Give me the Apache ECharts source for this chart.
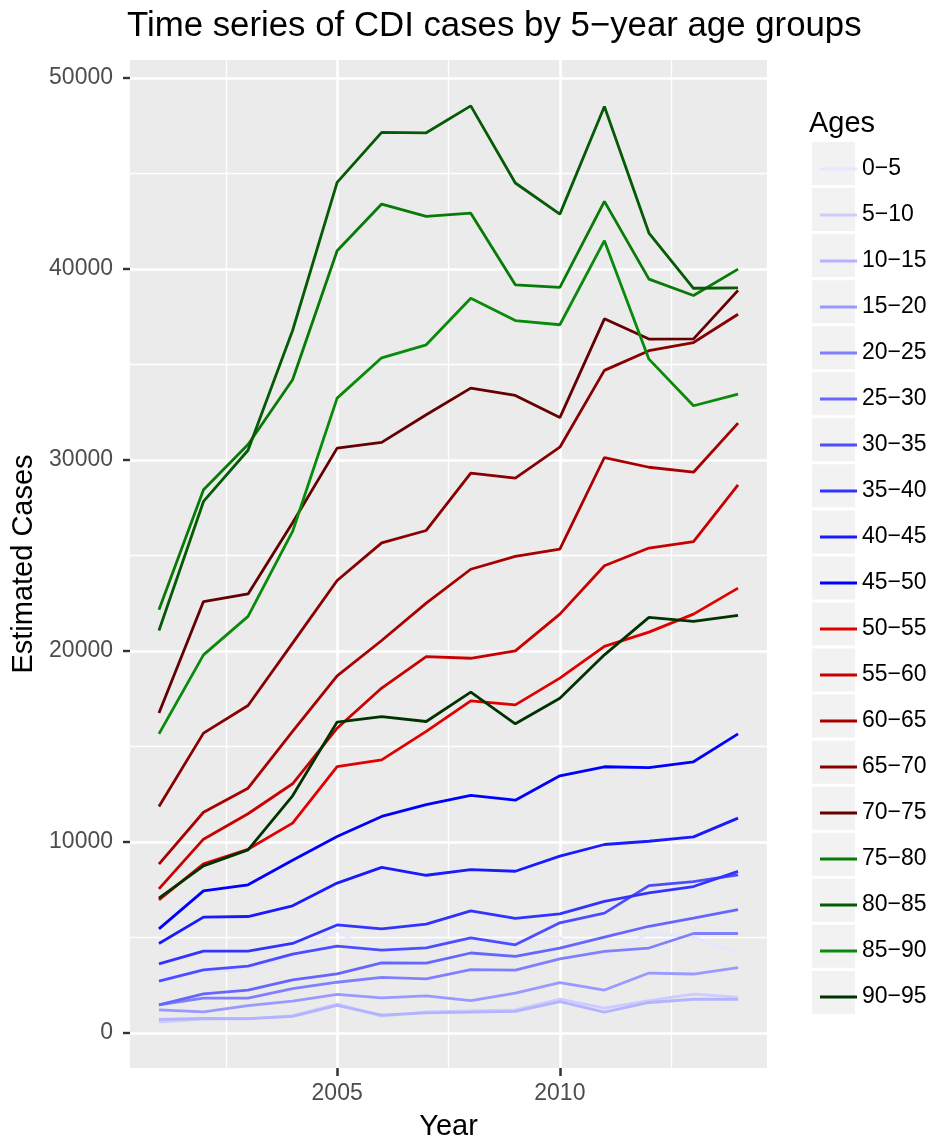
<!DOCTYPE html>
<html>
<head>
<meta charset="utf-8">
<title>CDI cases by age group</title>
<script src="https://cdn.jsdelivr.net/npm/echarts@6/dist/echarts.min.js"></script>
<style>
  html, body { margin: 0; padding: 0; background: #fff; }
  #chart { width: 933px; height: 1140px; }
</style>
</head>
<body>
<div id="chart"></div>
<script>
'use strict';
// estimated CDI cases per year, one array per 5-year age group
const years = [2001, 2002, 2003, 2004, 2005, 2006, 2007, 2008, 2009, 2010, 2011, 2012, 2013, 2014];

const ageGroups = ['0−5', '5−10', '10−15', '15−20', '20−25', '25−30', '30−35', '35−40', '40−45',
                   '45−50', '50−55', '55−60', '60−65', '65−70', '70−75', '75−80', '80−85', '85−90', '90−95'];

const cases_0_5   = [2950, 3140, 3350, 3980, 5390, 3730, 4780, 4900, 4830, 4960, 3910, 5220, 5010, 4170];
const cases_5_10  = [560, 720, 730, 900, 1500, 880, 1100, 1150, 1200, 1760, 1290, 1690, 2030, 1870];
const cases_10_15 = [700, 760, 750, 860, 1440, 930, 1050, 1080, 1120, 1640, 1080, 1590, 1760, 1760];
const cases_15_20 = [1200, 1100, 1430, 1660, 2010, 1830, 1940, 1690, 2080, 2630, 2240, 3130, 3080, 3420];
const cases_20_25 = [1465, 1815, 1815, 2320, 2650, 2900, 2830, 3310, 3280, 3870, 4270, 4440, 5200, 5200];
const cases_25_30 = [1465, 2040, 2235, 2775, 3090, 3665, 3650, 4180, 4000, 4440, 5010, 5580, 6010, 6450];
const cases_30_35 = [2705, 3300, 3490, 4120, 4540, 4330, 4450, 4970, 4610, 5760, 6265, 7710, 7920, 8270];
const cases_35_40 = [3610, 4280, 4280, 4680, 5650, 5445, 5690, 6390, 5990, 6230, 6880, 7330, 7660, 8450];
const cases_40_45 = [4680, 6060, 6090, 6650, 7840, 8660, 8250, 8550, 8460, 9250, 9860, 10030, 10260, 11240];
const cases_45_50 = [5445, 7435, 7750, 9040, 10280, 11330, 11950, 12430, 12180, 13455, 13930, 13890, 14190, 15650];
const cases_50_55 = [6960, 8850, 9610, 10980, 13940, 14290, 15780, 17380, 17170, 18570, 20230, 20980, 21920, 23280];
const cases_55_60 = [7540, 10140, 11470, 13040, 15950, 18050, 19700, 19610, 20000, 21920, 24450, 25380, 25720, 28690];
const cases_60_65 = [8830, 11550, 12810, 15780, 18690, 20540, 22500, 24270, 24940, 25320, 30120, 29610, 29350, 31920];
const cases_65_70 = [11850, 15690, 17140, 20400, 23680, 25650, 26300, 29300, 29040, 30660, 34680, 35710, 36140, 37620];
const cases_70_75 = [16740, 22580, 22980, 26700, 30610, 30910, 32360, 33750, 33370, 32210, 37380, 36320, 36330, 38870];
const cases_75_80 = [22150, 28430, 30800, 34190, 40940, 43390, 42740, 42910, 39160, 39030, 43530, 39460, 38600, 39980];
const cases_80_85 = [21060, 27820, 30500, 36770, 44520, 47140, 47120, 48530, 44490, 42860, 48500, 41870, 38980, 39000];
const cases_85_90 = [15650, 19790, 21800, 26250, 33230, 35340, 36020, 38460, 37290, 37070, 41470, 35270, 32830, 33440];
const cases_90_95 = [7050, 8740, 9580, 12410, 16270, 16560, 16300, 17840, 16180, 17520, 19790, 21750, 21540, 21850];

const allCases = [cases_0_5, cases_5_10, cases_10_15, cases_15_20, cases_20_25, cases_25_30, cases_30_35,
                  cases_35_40, cases_40_45, cases_45_50, cases_50_55, cases_55_60, cases_60_65, cases_65_70,
                  cases_70_75, cases_75_80, cases_80_85, cases_85_90, cases_90_95];

// tick positions
const yMajorTicks = [0, 10000, 20000, 30000, 40000, 50000];
const yMinorTicks = [5000, 15000, 25000, 35000, 45000];
const xMajorTicks = [2005, 2010];
const xMinorTicks = [2002.5, 2007.5, 2012.5];

const groupColors = ['#E6E6FF', '#CCCCFF', '#B3B3FF', '#9999FF', '#8080FF', '#6666FF', '#4D4DFF', '#3333FF',
                     '#1A1AFF', '#0000FF', '#E00000', '#C80000', '#A80000', '#880000', '#650000',
                     '#087A08', '#055A05', '#0A8A0A', '#003300'];

const FONT = '"Liberation Sans", Arial, Helvetica, sans-serif';

var dom = document.getElementById('chart');
var myChart = echarts.init(dom, null, {renderer: 'canvas'});

var series = ageGroups.map(function(name, i) {
  return {
    name: name,
    type: 'line',
    data: years.map((y, j) => [y, allCases[i][j]]),
    symbol: 'none',
    showSymbol: false,
    silent: true,
    z: 2,
    lineStyle: {width: 2.8, color: groupColors[i]},
    itemStyle: {color: groupColors[i]}
  };
});

// minor grid lines (ggplot style) drawn as mark lines under the data
series.unshift({
  name: '_grid',
  type: 'line',
  data: [],
  silent: true,
  markLine: {
    silent: true,
    z: 1,
    symbol: 'none',
    label: {show: false},
    lineStyle: {color: '#ffffff', width: 1.3, type: 'solid'},
    data: yMinorTicks.map(v => ({yAxis: v})).concat(xMinorTicks.map(v => ({xAxis: v})))
  }
});

// grey key backgrounds of the legend
var keyBoxes = ageGroups.map(function(g, i) {
  return {
    type: 'rect',
    shape: {x: 812, y: 142 + i * 46.05, width: 43, height: 43},
    style: {fill: '#F2F2F2'},
    z: 0
  };
});

var option = {
  animation: false,
  backgroundColor: '#ffffff',
  textStyle: {fontFamily: FONT},
  title: [
    {text: 'Time series of CDI cases by 5−year age groups', left: 122, top: 4,
     textStyle: {fontSize: 34.8, fontWeight: 'normal', color: '#000', fontFamily: FONT}},
    {text: 'Ages', left: 804, top: 104,
     textStyle: {fontSize: 29, fontWeight: 'normal', color: '#000', fontFamily: FONT}}
  ],
  legend: {
    orient: 'vertical',
    left: 815,
    top: 152,
    icon: 'rect',
    itemWidth: 37,
    itemHeight: 3,
    itemGap: 22,
    selectedMode: false,
    data: ageGroups,
    textStyle: {fontSize: 23, lineHeight: 24, color: '#000', fontFamily: FONT}
  },
  graphic: keyBoxes,
  grid: {
    left: 130, top: 60, width: 637, height: 1008,
    outerBoundsMode: 'none',
    containLabel: false,
    show: true, backgroundColor: '#EBEBEB', borderWidth: 0
  },
  xAxis: {
    type: 'value',
    position: 'bottom',
    min: 2000.35,
    max: 2014.65,
    name: 'Year',
    nameLocation: 'middle',
    nameGap: 44,
    nameTextStyle: {fontSize: 29, color: '#000', fontFamily: FONT},
    axisLine: {show: false, onZero: false},
    axisTick: {show: true, length: 8, customValues: xMajorTicks, lineStyle: {color: '#333333', width: 2.5}},
    axisLabel: {customValues: xMajorTicks, formatter: v => String(v), fontSize: 23, color: '#4D4D4D', margin: 14, fontFamily: FONT},
    splitLine: {show: true, lineStyle: {color: '#ffffff', width: 2.6}}
  },
  yAxis: {
    type: 'value',
    min: -1840,
    max: 50930,
    name: 'Estimated Cases',
    nameLocation: 'middle',
    nameGap: 76,
    nameTextStyle: {fontSize: 29, color: '#000', fontFamily: FONT},
    axisLine: {show: false, onZero: false},
    axisTick: {show: true, length: 7, customValues: yMajorTicks, lineStyle: {color: '#333333', width: 2.4}},
    axisLabel: {customValues: yMajorTicks, formatter: v => String(v), fontSize: 23, color: '#4D4D4D', margin: 17, fontFamily: FONT},
    splitLine: {show: true, lineStyle: {color: '#ffffff', width: 2.6}}
  },
  series: series
};

if (option && typeof option === 'object') {
  myChart.setOption(option, true);
}
</script>
</body>
</html>
